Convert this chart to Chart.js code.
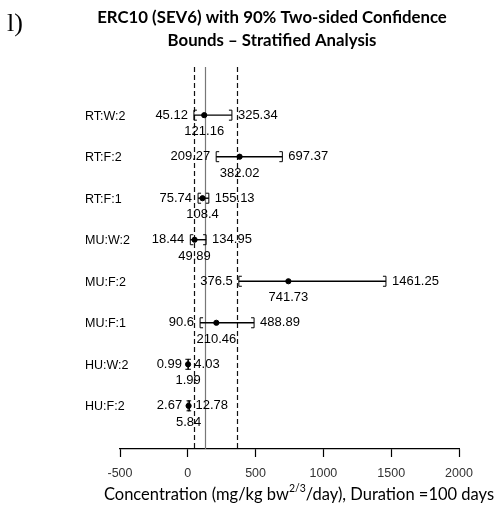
<!DOCTYPE html>
<html>
<head>
<meta charset="utf-8">
<script src="https://cdn.jsdelivr.net/npm/chart.js@4.4.1/dist/chart.umd.min.js"></script>
<style>
  html, body { margin: 0; padding: 0; background: #fff; }
  #wrap { width: 497px; height: 509px; }
</style>
</head>
<body>
<div id="wrap"><canvas id="erc"></canvas></div>
<script>
// strata, top to bottom
const groups = ['RT:W:2', 'RT:F:2', 'RT:F:1', 'MU:W:2', 'MU:F:2', 'MU:F:1', 'HU:W:2', 'HU:F:2'];
const lower = [45.12, 209.27, 75.74, 18.44, 376.5, 90.6, 0.99, 2.67];
const estimate = [121.16, 382.02, 108.4, 49.89, 741.73, 210.46, 1.99, 5.84];
const upper = [325.34, 697.37, 155.13, 134.95, 1461.25, 488.89, 4.03, 12.78];

// pooled estimate and its bounds (vertical reference lines)
const pooledLow = 44;
const pooledEst = 128;
const pooledHigh = 362;

const xTicks = [-500, 0, 500, 1000, 1500, 2000];

const numFont = '13px "Liberation Sans", Arial, sans-serif';
const nameFont = '12.5px "Liberation Sans", Arial, sans-serif';

// row position: first group sits at the top
const rowY = i => groups.length - i;

const refLines = {
  id: 'refLines',
  beforeDatasetsDraw(chart) {
    const { ctx, chartArea, scales } = chart;
    ctx.save();
    const lines = [[pooledLow, [5, 3], '#111'], [pooledEst, [], '#777'], [pooledHigh, [5, 3], '#111']];
    lines.forEach(([v, dash, col]) => {
      const x = Math.round(scales.x.getPixelForValue(v)) + 0.5;
      ctx.strokeStyle = col;
      ctx.lineWidth = 1.2;
      ctx.setLineDash(dash);
      ctx.beginPath();
      ctx.moveTo(x, chartArea.top);
      ctx.lineTo(x, chartArea.bottom);
      ctx.stroke();
    });
    ctx.restore();
  }
};

const ciBars = {
  id: 'ciBars',
  afterDatasetsDraw(chart) {
    const { ctx, scales } = chart;
    ctx.save();
    ctx.strokeStyle = '#000';
    ctx.fillStyle = '#000';
    groups.forEach((g, i) => {
      const y = scales.y.getPixelForValue(rowY(i));
      const xl = scales.x.getPixelForValue(lower[i]);
      const xe = scales.x.getPixelForValue(estimate[i]);
      const xu = scales.x.getPixelForValue(upper[i]);
      // interval line
      ctx.lineWidth = 1.4;
      ctx.beginPath();
      ctx.moveTo(xl, y);
      ctx.lineTo(xu, y);
      ctx.stroke();
      // end brackets
      ctx.lineWidth = 1;
      ctx.beginPath();
      ctx.moveTo(xl + 3, y - 5); ctx.lineTo(xl, y - 5); ctx.lineTo(xl, y + 5); ctx.lineTo(xl + 3, y + 5);
      ctx.moveTo(xu - 3, y - 5); ctx.lineTo(xu, y - 5); ctx.lineTo(xu, y + 5); ctx.lineTo(xu - 3, y + 5);
      ctx.stroke();
      // values
      ctx.font = numFont;
      ctx.textBaseline = 'middle';
      ctx.textAlign = 'right';
      ctx.fillText(String(lower[i]), xl - 6, y);
      ctx.textAlign = 'left';
      ctx.fillText(String(upper[i]), xu + 6, y);
      ctx.textAlign = 'center';
      ctx.fillText(String(estimate[i]), xe, y + 16.5);
      // group name
      ctx.font = nameFont;
      ctx.textAlign = 'left';
      ctx.fillText(g, 85, y + 1);
    });
    ctx.restore();
  }
};

const headings = {
  id: 'headings',
  afterDraw(chart) {
    const { ctx } = chart;
    ctx.save();
    ctx.fillStyle = '#000';
    ctx.textBaseline = 'middle';
    ctx.font = '26px "Liberation Serif", serif';
    ctx.textAlign = 'left';
    ctx.fillText('l)', 7, 24);

    ctx.font = 'bold 16.8px Lato, sans-serif';
    ctx.textAlign = 'center';
    ctx.fillText('ERC10 (SEV6) with 90% Two-sided Confidence', 272, 18);
    ctx.fillText('Bounds \u2013 Stratified Analysis', 272, 41);

    // x axis title with superscript exponent
    const parts = [
      ['Concentration (mg/kg bw', '16.5px Lato, sans-serif', 0],
      ['2/3', '10.5px Lato, sans-serif', -6],
      ['/day), Duration =100 days', '16.5px Lato, sans-serif', 0]
    ];
    let w = 0;
    parts.forEach(([t, f]) => { ctx.font = f; w += ctx.measureText(t).width; });
    let x = 299 - w / 2;
    ctx.textAlign = 'left';
    parts.forEach(([t, f, dy]) => {
      ctx.font = f;
      ctx.fillText(t, x, 495 + dy);
      x += ctx.measureText(t).width;
    });
    ctx.restore();
  }
};

new Chart(document.getElementById('erc'), {
  type: 'scatter',
  data: {
    datasets: [{
      data: estimate.map((v, i) => ({ x: v, y: rowY(i) })),
      backgroundColor: '#000',
      borderColor: '#000',
      pointRadius: 2.6,
      pointHoverRadius: 2.6
    }]
  },
  options: {
    responsive: true,
    maintainAspectRatio: false,
    animation: false,
    layout: { padding: { left: 120, right: 38, top: 67, bottom: 19 } },
    plugins: {
      legend: { display: false },
      tooltip: { enabled: false },
      title: { display: false }
    },
    scales: {
      x: {
        type: 'linear',
        min: -500,
        max: 2000,
        afterBuildTicks(axis) { axis.ticks = xTicks.map(v => ({ value: v })); },
        grid: { drawOnChartArea: false, drawTicks: true, tickLength: 8, color: '#000', tickWidth: 1.2 },
        border: { display: true, color: '#000', width: 1.2 },
        ticks: {
          padding: 9,
          color: '#333',
          maxRotation: 0,
          callback: v => String(v),
          font: { family: '"Liberation Sans", Arial, sans-serif', size: 12.5 }
        }
      },
      y: {
        type: 'linear',
        display: false,
        min: -0.04,
        max: 9.16
      }
    }
  },
  plugins: [refLines, ciBars, headings]
});
</script>
</body>
</html>
